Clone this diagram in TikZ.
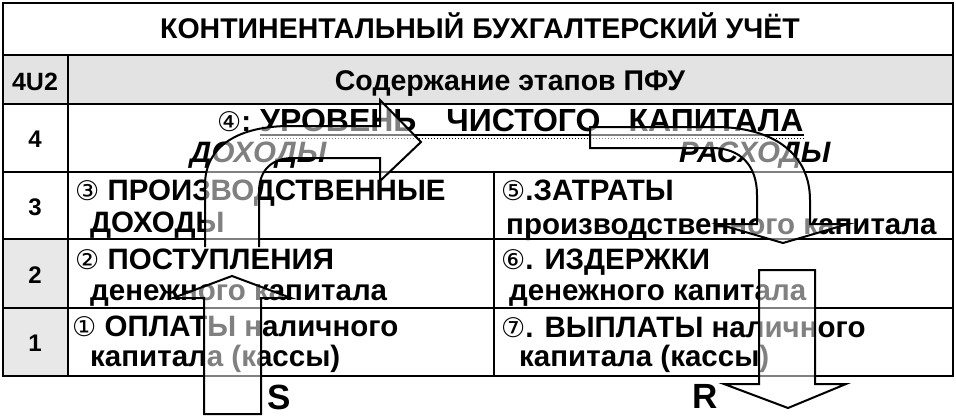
\documentclass[tikz,border=0pt]{standalone}
\usepackage{fontspec}
\setmainfont{Liberation Sans}
\newfontfamily\circfont{DejaVu Sans}
\newcommand\cnum[1]{{\circfont\mdseries\fontsize{27}{30}\selectfont #1}}
\begin{document}
\begin{tikzpicture}[x=1pt,y=-1pt,%
% common options for texts:
txt/.style = {anchor=base west, inner sep=0, font=\fontsize{29.5}{32}\selectfont\bfseries},
% common options for the grid lines:
grid/.style = {line width=2.4pt},
% common options for the block arrows:
flow/.style = {draw, line width=2pt, fill=white, fill opacity=0.5, line join=miter}]
\useasboundingbox (0,0) rectangle (956,416);
\fill[gray!22] (3,55) rectangle (953,104);
\fill[gray!18] (3,239) rectangle (68,376);
\draw[grid] (3,3) rectangle (953,376);
\draw[grid] (3,55) -- (953,55) (3,104) -- (953,104) (3,172) -- (953,172)
  (3,239) -- (953,239) (3,308) -- (953,308);
\draw[grid] (68,55) -- (68,376) (494,172) -- (494,376);
% headings
\node[txt,anchor=base,font=\fontsize{28.5}{32}\selectfont\bfseries] (T0) at (480,38) {КОНТИНЕНТАЛЬНЫЙ БУХГАЛТЕРСКИЙ УЧЁТ};
\node[txt,anchor=base,font=\fontsize{25}{30}\selectfont\bfseries] (N0) at (35,90) {4U2};
\node[txt,anchor=base,font=\fontsize{28.5}{30}\selectfont\bfseries] (H0) at (510,90) {Содержание этапов ПФУ};
\node[txt,anchor=base,font=\fontsize{24}{26}\selectfont\bfseries] (N4) at (35,147) {4};
\node[txt,anchor=base,font=\fontsize{24}{26}\selectfont\bfseries] (N3) at (35,215) {3};
\node[txt,anchor=base,font=\fontsize{24}{26}\selectfont\bfseries] (N2) at (35,283) {2};
\node[txt,anchor=base,font=\fontsize{24}{26}\selectfont\bfseries] (N1) at (35,351) {1};
% level 4
\node[txt] (C0) at (217,131) {\cnum{④}:};
\node[txt,font=\fontsize{32}{34}\selectfont\bfseries] (C1) at (260,131) {УРОВЕНЬ\hspace{30pt}ЧИСТОГО\hspace{28pt}КАПИТАЛА};
\draw[line width=1.5pt] ([yshift=-4pt]C1.base west) -- ([yshift=-4pt]C1.base east);
\draw[line width=1pt,dotted] ([yshift=-7pt]C1.base west) -- ([yshift=-7pt]C1.base east);
\node[txt,font=\fontsize{29.5}{32}\selectfont\bfseries\itshape] (C2) at (190,162) {ДОХОДЫ};
\node[txt,font=\fontsize{29.5}{32}\selectfont\bfseries\itshape] (C3) at (679,162) {РАСХОДЫ};
% levels 3 to 1, left
\node[txt] (A1) at (75,200) {\cnum{③} ПРОИЗВОДСТВЕННЫЕ};
\node[txt] (A2) at (90,232) {ДОХОДЫ};
\node[txt] (A3) at (75,269) {\cnum{②} ПОСТУПЛЕНИЯ};
\node[txt] (A4) at (90,300) {денежного капитала};
\node[txt] (A5) at (72,336) {\cnum{①} ОПЛАТЫ наличного};
\node[txt] (A6) at (90,366) {капитала (кассы)};
% levels 3 to 1, right
\node[txt] (B1) at (501,200) {\cnum{⑤}.ЗАТРАТЫ};
\node[txt] (B2) at (506,234) {производственного капитала};
\node[txt] (B3) at (501,269) {\cnum{⑥}. ИЗДЕРЖКИ};
\node[txt] (B4) at (509,300) {денежного капитала};
\node[txt] (B5) at (501,337) {\cnum{⑦}. ВЫПЛАТЫ наличного};
\node[txt] (B6) at (519,366) {капитала (кассы)};
\node[txt,font=\fontsize{35}{38}\selectfont\bfseries] (S) at (267,409) {S};
\node[txt,font=\fontsize{35}{38}\selectfont\bfseries] (R) at (692,408) {R};
% block arrows
\draw[flow] (205,247) -- (205,185) .. controls (205,145) and (240,126) .. (290,126)
  -- (380,126) -- (380,100) -- (421,142) -- (380,181) -- (380,158) -- (293,158)
  .. controls (272,158) and (259,170) .. (259,192) -- (259,247);
\draw[flow] (590,148) -- (590,127) -- (715,127) .. controls (775,127) and (810,155) .. (810,200)
  -- (810,224) -- (848,224) -- (783,243) -- (718,224) -- (757,224) -- (757,195)
  .. controls (757,165) and (740,148) .. (712,148) -- cycle;
\draw[flow] (204,414) -- (204,298) -- (173,298) -- (232,276) -- (291,298) -- (261,298) -- (261,414) -- cycle;
\draw[flow] (759,270) -- (815,270) -- (815,384) -- (846,384) -- (788,408) -- (724,384) -- (759,384) -- cycle;
\end{tikzpicture}
\end{document}
